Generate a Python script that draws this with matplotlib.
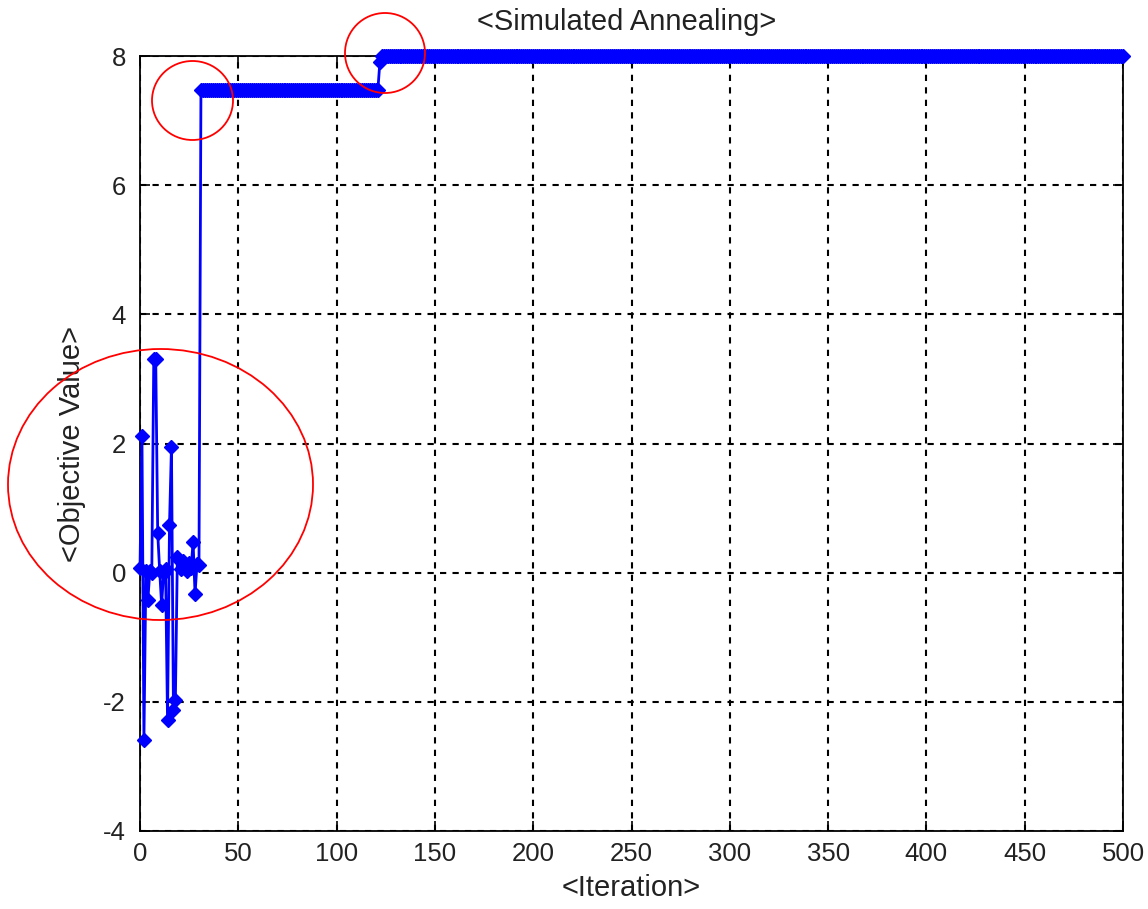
import numpy as np
import matplotlib
matplotlib.use("Agg")
import matplotlib.pyplot as plt
from matplotlib.patches import Ellipse

plt.rcParams['font.family'] = ['Liberation Sans', 'DejaVu Sans']
plt.rcParams['axes.unicode_minus'] = False

# Early exploration phase (iterations 0..30)
early_values = [0.08, 2.11, -2.59, 0.03, -0.42, 0.02, 0.0, 3.31, 3.31, 0.62,
                0.03, -0.5, 0.0, 0.05, -2.28, 0.74, 1.95, -2.12, -1.97, 0.25,
                0.2, 0.05, 0.18, 0.1, 0.02, 0.15, 0.08, 0.47, -0.33, 0.14, 0.12]
# Plateau segments: (value, first iteration, last iteration)
plateau_values = [7.48, 7.9, 8.0]
plateau_starts = [31, 122, 123]
plateau_ends = [121, 122, 500]

iters = list(range(len(early_values)))
vals = list(early_values)
for v, s, e in zip(plateau_values, plateau_starts, plateau_ends):
    for i in range(s, e + 1):
        iters.append(i)
        vals.append(v)

W, H = 1148, 909
fig = plt.figure(figsize=(W / 100, H / 100), dpi=100)
L, R, T, B = 140, 1123, 56, 831
ax = fig.add_axes([L / W, 1 - B / H, (R - L) / W, (B - T) / H])

ax.plot(iters, vals, color='blue', lw=2, marker='D', markersize=7,
        markerfacecolor='blue', markeredgecolor='blue', clip_on=False, zorder=5)

ax.set_xlim(0, 500)
ax.set_ylim(-4, 8)
ax.set_xticks(np.arange(0, 501, 50))
ax.set_yticks(np.arange(-4, 9, 2))
ax.grid(True, color='black', linestyle=(0, (3, 3)), linewidth=1.5)
ax.tick_params(direction='in', labelsize=18.5, length=7, width=1.2,
               top=True, right=True, labelcolor='#222222')
ax.tick_params(axis='x', pad=8)
ax.tick_params(axis='y', pad=10)
for s in ax.spines.values():
    s.set_linewidth(1.3)

fig.text((L + R) / 2 / W - 0.004, 1 - 22 / H, '<Simulated Annealing>', fontsize=21,
         ha='center', va='center', color='#222222')
ax.set_xlabel('<Iteration>', fontsize=21, color='#222222')
ax.set_ylabel('<Objective Value>', fontsize=21, color='#222222')
ax.xaxis.set_label_coords(0.5, (B - 888) / (B - T), transform=ax.transAxes)
ax.yaxis.set_label_coords((72 - L) / (R - L), 0.5, transform=ax.transAxes)
ax.xaxis.label.set_va('center')
ax.yaxis.label.set_va('center')

for cx, cy, w, h in [(192.5, 100.5, 81, 79), (385, 53, 80, 80), (160.5, 484.5, 305, 271)]:
    e = Ellipse((cx / W, 1 - cy / H), w / W, h / H, transform=fig.transFigure,
                fill=False, edgecolor='red', lw=1.3, zorder=10)
    fig.patches.append(e)

fig.savefig('out.png', dpi=100)
